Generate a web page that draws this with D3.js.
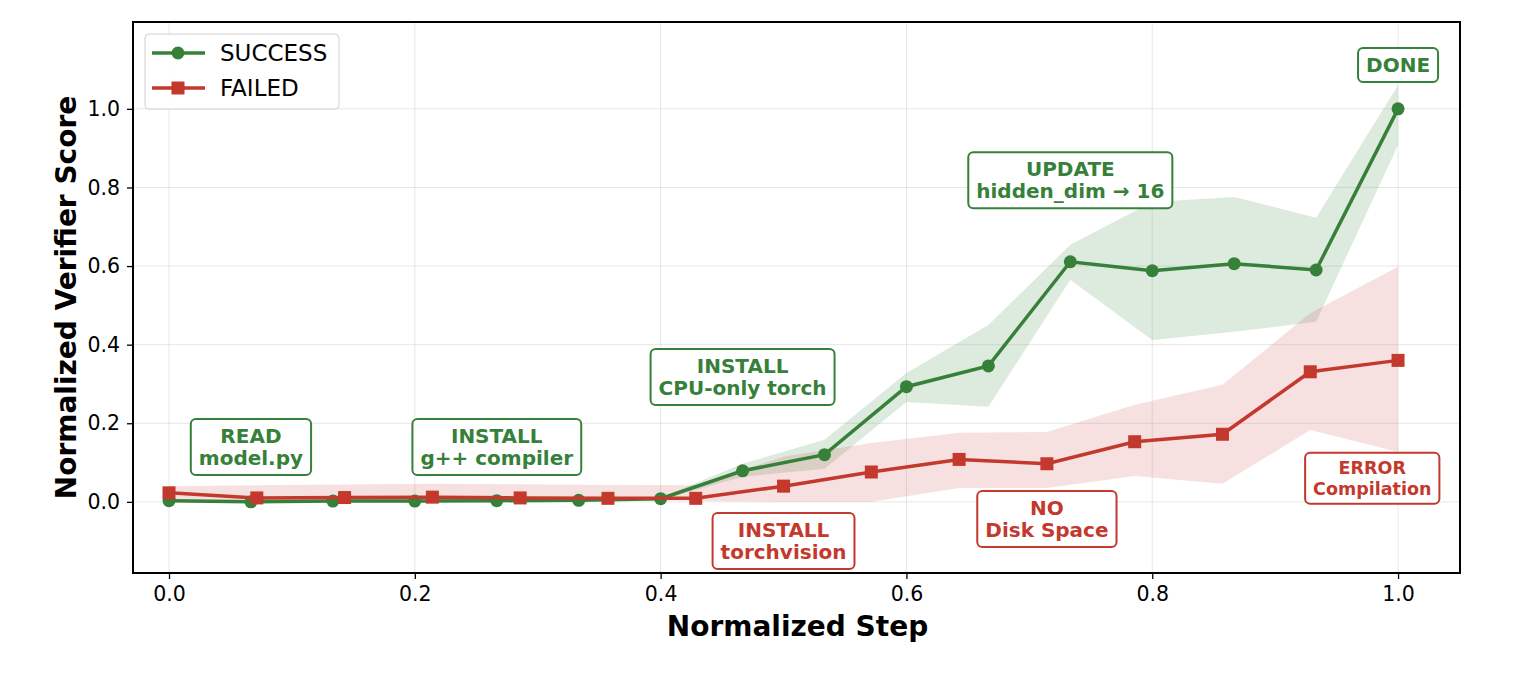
<!DOCTYPE html>
<html>
<head>
<meta charset="utf-8">
<script src="https://cdn.jsdelivr.net/npm/d3@7"></script>
<style>
body { margin: 0; background: #fff; }
text { font-family: "DejaVu Sans", sans-serif; }
</style>
</head>
<body>
<script>
// success runs: 16 steps, failed runs: 15 steps
var successX = d3.range(16).map(function(i){ return i / 15 })
var successY = [0.003, 0.0, 0.002, 0.002, 0.003, 0.004, 0.008, 0.079, 0.12, 0.293, 0.346, 0.611, 0.588, 0.606, 0.59, 1.0]
var successLo = [0.0, -0.003, -0.001, -0.001, 0.0, 0.001, 0.005, 0.064, 0.084, 0.254, 0.242, 0.565, 0.412, 0.433, 0.458, 0.908]
var successHi = [0.006, 0.003, 0.005, 0.005, 0.006, 0.007, 0.011, 0.097, 0.158, 0.328, 0.45, 0.654, 0.763, 0.776, 0.723, 1.061]

var failedX = d3.range(15).map(function(i){ return i / 14 })
var failedY = [0.023, 0.01, 0.011, 0.012, 0.01, 0.009, 0.009, 0.04, 0.076, 0.108, 0.097, 0.153, 0.172, 0.331, 0.36]
var failedLo = [0.005, 0.004, 0.004, 0.004, 0.004, 0.004, 0.003, 0.0, 0.0, 0.035, 0.035, 0.066, 0.046, 0.183, 0.127]
var failedHi = [0.04, 0.042, 0.044, 0.046, 0.045, 0.043, 0.042, 0.115, 0.15, 0.176, 0.178, 0.247, 0.298, 0.48, 0.598]

var xTicks = [0.0, 0.2, 0.4, 0.6, 0.8, 1.0]
var yTicks = [0.0, 0.2, 0.4, 0.6, 0.8, 1.0]

var notes = [
  {lines: ["READ", "model.py"], x: 1/15, y: 0.14, kind: "ok"},
  {lines: ["INSTALL", "g++ compiler"], x: 4/15, y: 0.14, kind: "ok"},
  {lines: ["INSTALL", "CPU-only torch"], x: 7/15, y: 0.318, kind: "ok"},
  {lines: ["UPDATE", "hidden_dim \u2192 16"], x: 11/15, y: 0.819, kind: "ok"},
  {lines: ["DONE"], x: 1.0, y: 1.112, kind: "ok"},
  {lines: ["INSTALL", "torchvision"], x: 0.5, y: -0.099, kind: "bad"},
  {lines: ["NO", "Disk Space"], x: 10/14, y: -0.043, kind: "bad"},
  {lines: ["ERROR", "Compilation"], x: 0.979, y: 0.061, kind: "bad", small: true}
]

var GREEN = "#37803a"
var RED = "#c4392d"

var width = 1518, height = 677
var margin = {top: 22, right: 58, bottom: 104, left: 133}
var w = width - margin.left - margin.right
var h = height - margin.top - margin.bottom

var svg = d3.select("body").append("svg")
  .attr("width", width)
  .attr("height", height)

var g = svg.append("g")
  .attr("transform", "translate(" + margin.left + "," + margin.top + ")")

var x = d3.scaleLinear().domain([-0.0293, 1.0504]).range([0, w])
var y = d3.scaleLinear().domain([-0.181, 1.221]).range([h, 0])

// grid
g.selectAll(".gx").data(xTicks).enter().append("line")
  .attr("x1", function(d){ return x(d) }).attr("x2", function(d){ return x(d) })
  .attr("y1", 0).attr("y2", h)
  .attr("stroke", "#b0b0b0").attr("stroke-opacity", 0.3).attr("stroke-width", 1)
g.selectAll(".gy").data(yTicks).enter().append("line")
  .attr("x1", 0).attr("x2", w)
  .attr("y1", function(d){ return y(d) }).attr("y2", function(d){ return y(d) })
  .attr("stroke", "#b0b0b0").attr("stroke-opacity", 0.3).attr("stroke-width", 1)

var band = d3.area()
  .x(function(d){ return x(d.x) })
  .y0(function(d){ return y(d.lo) })
  .y1(function(d){ return y(d.hi) })
var line = d3.line()
  .x(function(d){ return x(d.x) })
  .y(function(d){ return y(d.y) })

var sData = successX.map(function(v, i){ return {x: v, y: successY[i], lo: successLo[i], hi: successHi[i]} })
var fData = failedX.map(function(v, i){ return {x: v, y: failedY[i], lo: failedLo[i], hi: failedHi[i]} })

g.append("path").datum(sData).attr("d", band).attr("fill", GREEN).attr("fill-opacity", 0.17)
g.append("path").datum(fData).attr("d", band).attr("fill", RED).attr("fill-opacity", 0.15)

g.append("path").datum(sData).attr("d", line)
  .attr("fill", "none").attr("stroke", GREEN).attr("stroke-width", 3.5)
g.selectAll(".sdot").data(sData).enter().append("circle")
  .attr("cx", function(d){ return x(d.x) }).attr("cy", function(d){ return y(d.y) })
  .attr("r", 6.5).attr("fill", GREEN)

g.append("path").datum(fData).attr("d", line)
  .attr("fill", "none").attr("stroke", RED).attr("stroke-width", 3.5)
g.selectAll(".fsq").data(fData).enter().append("rect")
  .attr("x", function(d){ return x(d.x) - 6.5 }).attr("y", function(d){ return y(d.y) - 6.5 })
  .attr("width", 13).attr("height", 13).attr("fill", RED)

// frame
g.append("rect").attr("width", w).attr("height", h)
  .attr("fill", "none").attr("stroke", "#000").attr("stroke-width", 2)

// axes
var xAxis = g.append("g").attr("transform", "translate(0," + h + ")")
  .call(d3.axisBottom(x).tickValues(xTicks).tickFormat(d3.format(".1f")).tickSize(6).tickPadding(7))
var yAxis = g.append("g")
  .call(d3.axisLeft(y).tickValues(yTicks).tickFormat(d3.format(".1f")).tickSize(6).tickPadding(7))
;[xAxis, yAxis].forEach(function(a){
  a.select(".domain").remove()
  a.selectAll("line").attr("stroke", "#000").attr("stroke-width", 1.3)
  a.selectAll("text").attr("font-size", 20.5).attr("fill", "#000")
    .attr("font-family", "DejaVu Sans, sans-serif")
})

svg.append("text")
  .attr("x", margin.left + w / 2 + 1).attr("y", 636)
  .attr("text-anchor", "middle").attr("font-size", 28).attr("font-weight", "bold")
  .text("Normalized Step")
svg.append("text")
  .attr("transform", "translate(76," + (margin.top + h / 2) + ") rotate(-90)")
  .attr("text-anchor", "middle").attr("font-size", 28).attr("font-weight", "bold")
  .text("Normalized Verifier Score")

// annotations
notes.forEach(function(n){
  var col = n.kind == "ok" ? GREEN : RED
  var fs = n.small ? 17.5 : 20
  var lh = n.small ? 21 : 22
  var ng = g.append("g").attr("transform", "translate(" + x(n.x) + "," + y(n.y) + ")")
  var rect = ng.append("rect")
  var t = ng.append("text").attr("text-anchor", "middle").attr("font-size", fs)
    .attr("font-weight", "bold").attr("fill", col)
  var top = -(n.lines.length - 1) * lh / 2
  n.lines.forEach(function(s, i){
    t.append("tspan").attr("x", 0).attr("y", top + i * lh).attr("dy", "0.36em").text(s)
  })
  var bb = t.node().getBBox()
  var px = 8, py = 6
  rect.attr("x", bb.x - px).attr("y", bb.y - py + 1)
    .attr("width", bb.width + 2 * px).attr("height", bb.height + 2 * py - 2)
    .attr("rx", 5).attr("fill", "#fff").attr("stroke", col).attr("stroke-width", 2)
})

// legend
var lg = g.append("g").attr("transform", "translate(12,12)")
lg.append("rect").attr("width", 194).attr("height", 75).attr("rx", 4)
  .attr("fill", "#fff").attr("fill-opacity", 0.85).attr("stroke", "#d0d0d0")
var legendItems = [{name: "SUCCESS", col: GREEN, shape: "circle"}, {name: "FAILED", col: RED, shape: "square"}]
legendItems.forEach(function(d, i){
  var ly = 19 + i * 35
  lg.append("line").attr("x1", 7).attr("x2", 60).attr("y1", ly).attr("y2", ly)
    .attr("stroke", d.col).attr("stroke-width", 3.5)
  if (d.shape == "circle") {
    lg.append("circle").attr("cx", 33).attr("cy", ly).attr("r", 6.5).attr("fill", d.col)
  } else {
    lg.append("rect").attr("x", 26.5).attr("y", ly - 6.5).attr("width", 13).attr("height", 13).attr("fill", d.col)
  }
  lg.append("text").attr("x", 75).attr("y", ly).attr("dy", "0.36em")
    .attr("font-size", 23).attr("fill", "#000").text(d.name)
})
</script>
</body>
</html>
